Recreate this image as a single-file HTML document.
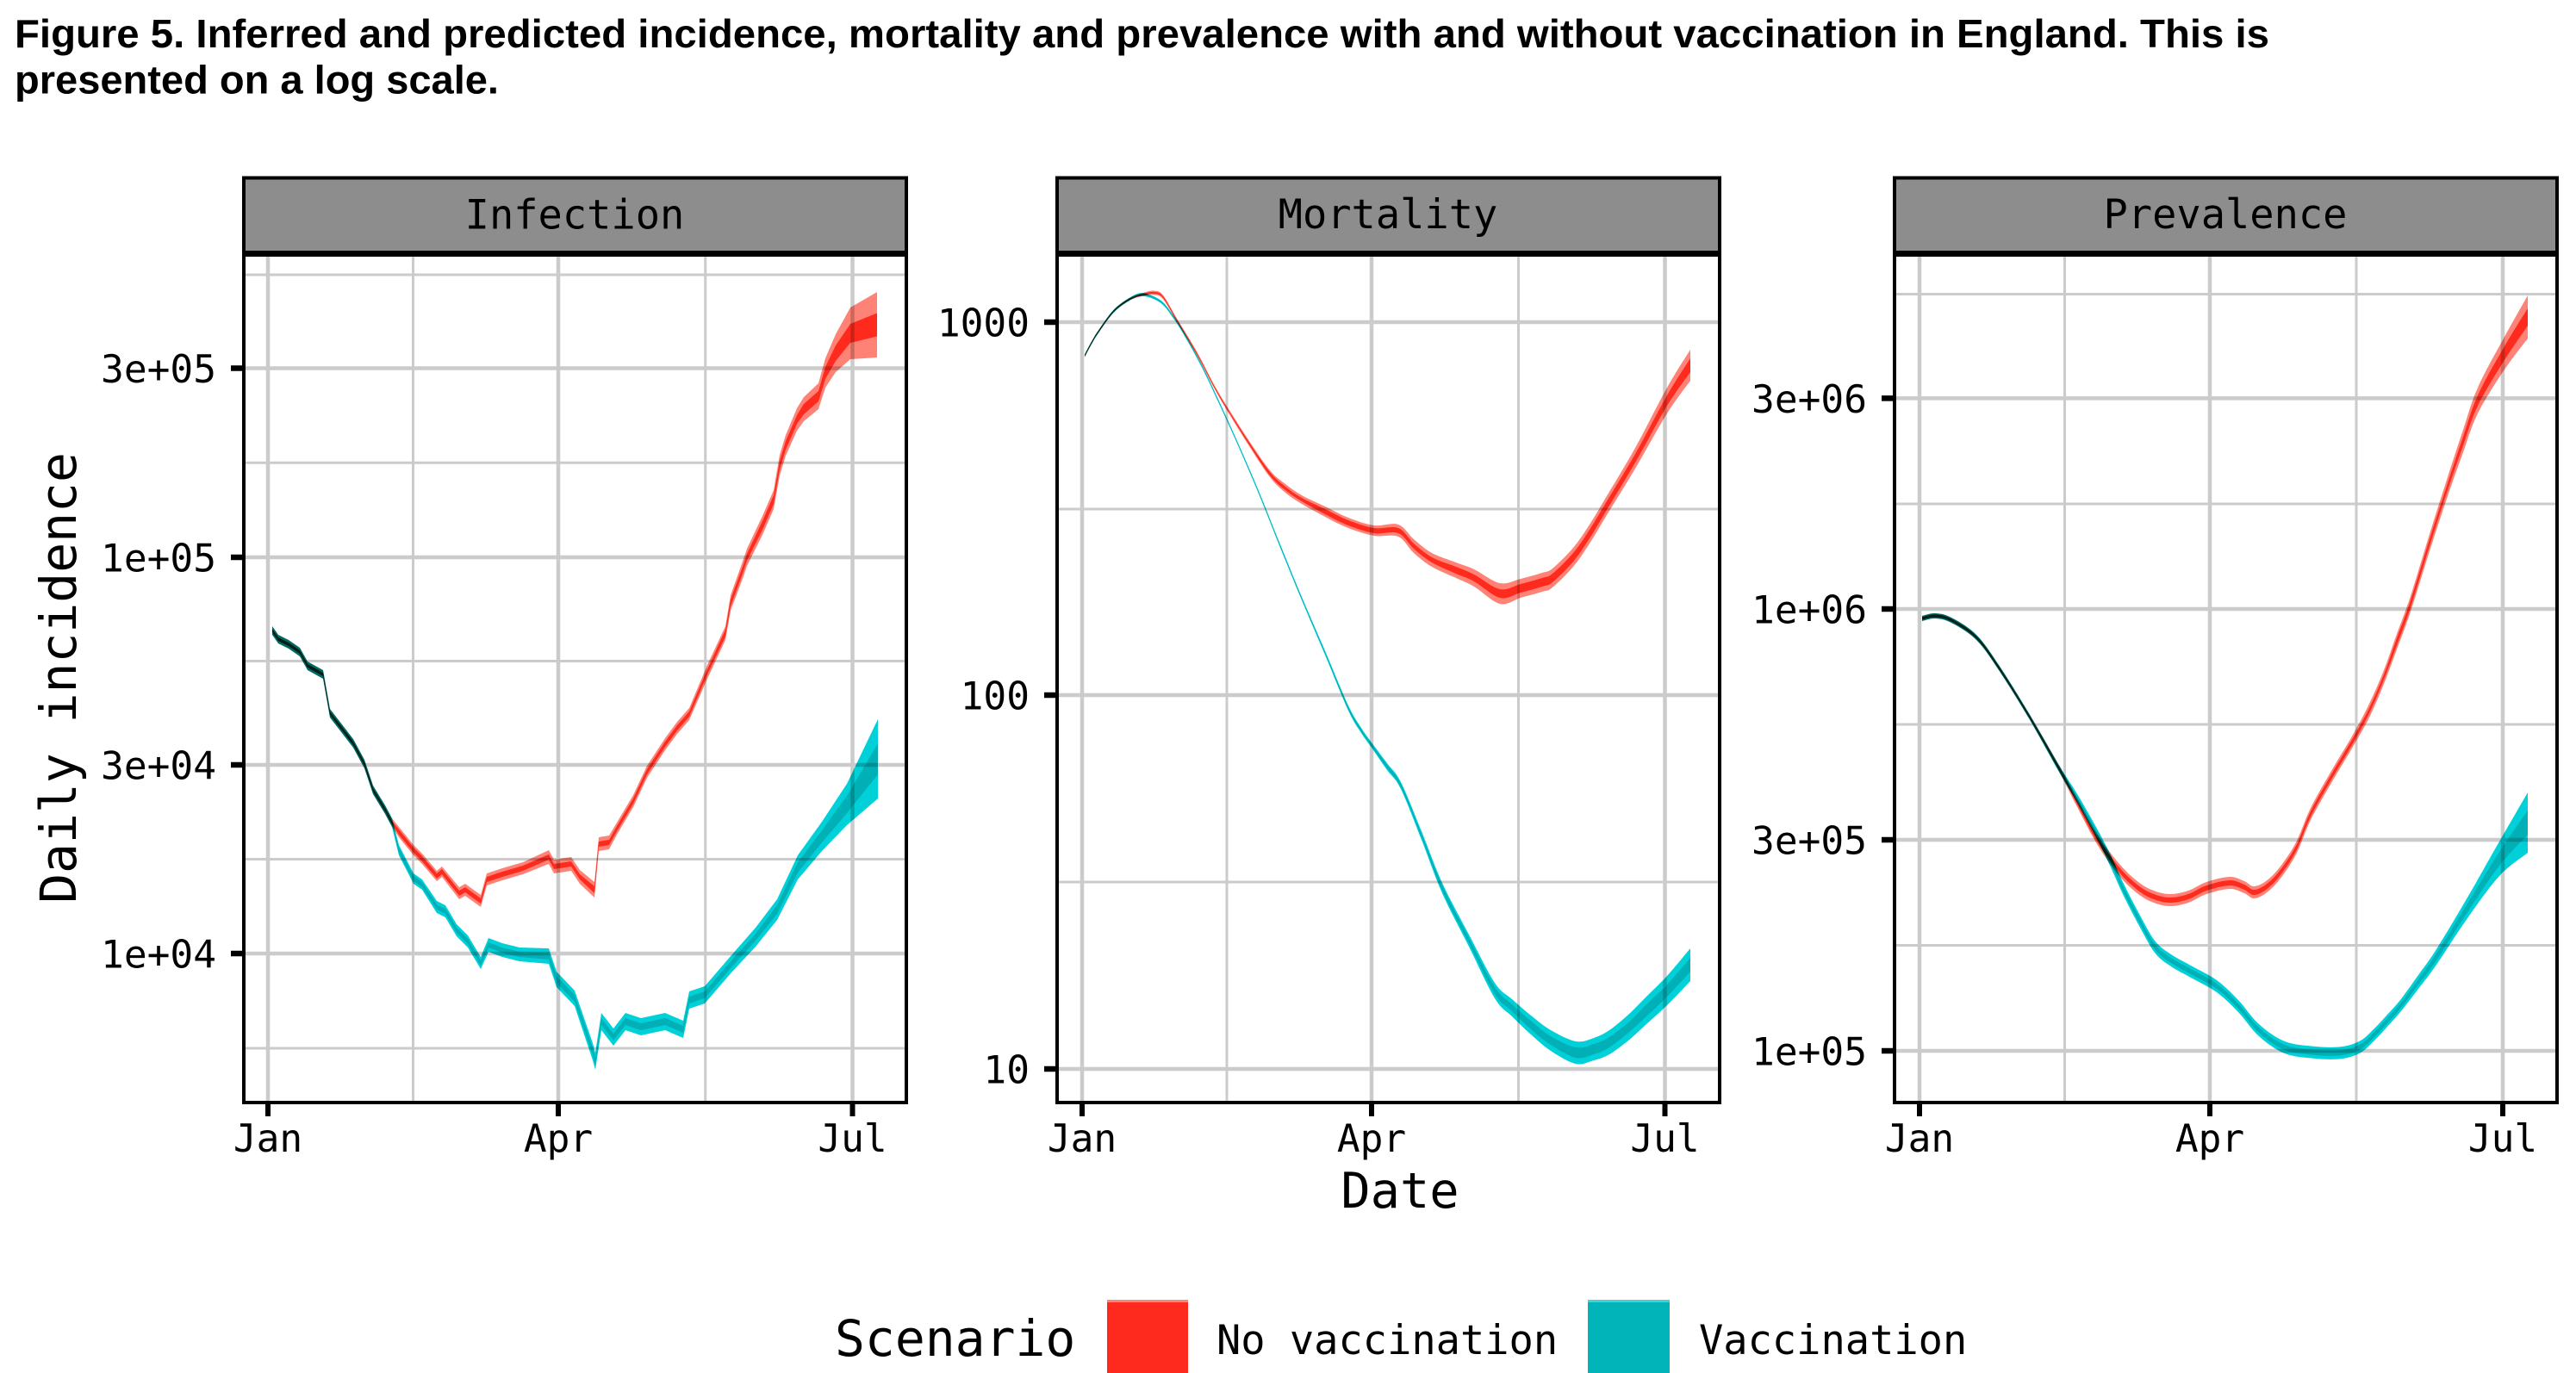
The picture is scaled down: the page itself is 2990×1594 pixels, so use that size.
<!DOCTYPE html>
<html><head><meta charset="utf-8">
<style>
html,body{margin:0;padding:0;background:#fff;}
svg{display:block;}
.mono{font-family:"DejaVu Sans Mono","Liberation Mono",monospace;fill:#000;}
.rib{mix-blend-mode:multiply;}
</style></head>
<body>
<svg id="s" width="2990" height="1594" viewBox="0 0 2990 1594" xmlns="http://www.w3.org/2000/svg">
<rect x="0" y="0" width="2990" height="1594" fill="#fff"/>
<text x="17" y="55" font-family="Liberation Sans, Arial, sans-serif" font-weight="bold" font-size="46.5" textLength="2617" lengthAdjust="spacingAndGlyphs">Figure 5. Inferred and predicted incidence, mortality and prevalence with and without vaccination in England. This is</text>
<text x="17" y="108.5" font-family="Liberation Sans, Arial, sans-serif" font-weight="bold" font-size="46.5" textLength="562" lengthAdjust="spacingAndGlyphs">presented on a log scale.</text>

<g id="grid" stroke="#cbcbcb" fill="none"></g>
<g id="ribs"></g>
<g id="frames"></g>

<!-- strip labels -->
<text class="mono" x="667" y="265.5" font-size="47" text-anchor="middle">Infection</text>
<text class="mono" x="1611" y="265" font-size="47" text-anchor="middle">Mortality</text>
<text class="mono" x="2583" y="265" font-size="47" text-anchor="middle">Prevalence</text>

<!-- y tick labels -->
<g class="mono" font-size="44.5" text-anchor="end">
<text x="251" y="444">3e+05</text>
<text x="251" y="663.5">1e+05</text>
<text x="251" y="904.5">3e+04</text>
<text x="251" y="1123.5">1e+04</text>
<text x="1195" y="390.5">1000</text>
<text x="1195" y="823.5">100</text>
<text x="1195" y="1257.5">10</text>
<text x="2167" y="479">3e+06</text>
<text x="2167" y="723.5">1e+06</text>
<text x="2167" y="991.5">3e+05</text>
<text x="2167" y="1236.5">1e+05</text>
</g>
<!-- x tick labels -->
<g class="mono" font-size="44.5" text-anchor="middle">
<text x="311" y="1337">Jan</text><text x="648" y="1337">Apr</text><text x="989.5" y="1337">Jul</text>
<text x="1256" y="1337">Jan</text><text x="1592" y="1337">Apr</text><text x="1932.5" y="1337">Jul</text>
<text x="2228" y="1337">Jan</text><text x="2565" y="1337">Apr</text><text x="2905" y="1337">Jul</text>
</g>
<!-- axis titles -->
<text class="mono" font-size="58" text-anchor="middle" transform="translate(88,787) rotate(-90)">Daily incidence</text>
<text class="mono" x="1625" y="1402" font-size="57" text-anchor="middle">Date</text>

<!-- legend -->
<text class="mono" x="969" y="1574" font-size="58">Scenario</text>
<rect x="1285" y="1509" width="94" height="94" fill="#ff2a1e"/>
<rect x="1285" y="1509" width="94" height="3" fill="#ff8276"/>
<text class="mono" x="1412" y="1572" font-size="47">No vaccination</text>
<rect x="1843" y="1509" width="95" height="94" fill="#00b4b9"/>
<rect x="1843" y="1509" width="95" height="3" fill="#40d4d8"/>
<text class="mono" x="1972" y="1572" font-size="47">Vaccination</text>
</svg>

<script>
(function(){
var NS="http://www.w3.org/2000/svg";
function el(parent,tag,attrs){var e=document.createElementNS(NS,tag);for(var k in attrs)e.setAttribute(k,attrs[k]);parent.appendChild(e);return e;}
var grid=document.getElementById('grid'),ribs=document.getElementById('ribs'),frames=document.getElementById('frames');
var panels=[
 {x0:283,x1:1052,vmaj:[311,648,989.5],vmin:[479.5,818.75],hmaj:[427.5,647,888,1107],hmin:[319,537.25,767.5,997.5,1217]},
 {x0:1227,x1:1996,vmaj:[1256,1592,1932.5],vmin:[1424,1762.5],hmaj:[374,807,1241],hmin:[591,1024]},
 {x0:2199,x1:2968,vmaj:[2228,2565,2905],vmin:[2396.5,2735],hmaj:[462.4,707,975,1220],hmin:[341.5,585,841,1097.5]}
];
var T=296,B=1280;
panels.forEach(function(p){
 p.hmin.forEach(function(y){el(grid,'line',{x1:p.x0,x2:p.x1,y1:y,y2:y,'stroke-width':3});});
 p.vmin.forEach(function(x){el(grid,'line',{x1:x,x2:x,y1:T,y2:B,'stroke-width':3});});
 p.hmaj.forEach(function(y){el(grid,'line',{x1:p.x0,x2:p.x1,y1:y,y2:y,'stroke-width':4.5});});
 p.vmaj.forEach(function(x){el(grid,'line',{x1:x,x2:x,y1:T,y2:B,'stroke-width':4.5});});
 el(frames,'rect',{x:p.x0,y:206.5,width:p.x1-p.x0,height:86.5,fill:'#8d8d8d',stroke:'#000','stroke-width':4});
 el(frames,'rect',{x:p.x0,y:296,width:p.x1-p.x0,height:B-296,fill:'none',stroke:'#000','stroke-width':4});
 p.hmaj.forEach(function(y){el(frames,'line',{x1:p.x0-15,x2:p.x0,y1:y,y2:y,stroke:'#000','stroke-width':6.5});});
 p.vmaj.forEach(function(x){el(frames,'line',{x1:x,x2:x,y1:B,y2:B+16,stroke:'#000','stroke-width':6});});
});

function cr(pts){
 var s='';
 for(var i=0;i<pts.length-1;i++){
  var p0=pts[i-1]||pts[i],p1=pts[i],p2=pts[i+1],p3=pts[i+2]||p2;
  var c1x=p1[0]+(p2[0]-p0[0])/6,c1y=p1[1]+(p2[1]-p0[1])/6;
  var c2x=p2[0]-(p3[0]-p1[0])/6,c2y=p2[1]-(p3[1]-p1[1])/6;
  s+='C'+c1x.toFixed(1)+','+c1y.toFixed(1)+' '+c2x.toFixed(1)+','+c2y.toFixed(1)+' '+p2[0]+','+p2[1].toFixed(1);
 }
 return s;
}
function lin(pts){var s='';for(var i=1;i<pts.length;i++)s+='L'+pts[i][0]+','+pts[i][1].toFixed(1);return s;}
function band(pts,k,smooth){
 var up=pts.map(function(p){return [p[0],p[1]-p[k]];});
 var lo=pts.map(function(p){return [p[0],p[1]+p[k]];}).reverse();
 var f=smooth?cr:lin;
 return 'M'+up[0][0]+','+up[0][1].toFixed(1)+f(up)+'L'+lo[0][0]+','+lo[0][1].toFixed(1)+f(lo)+'Z';
}
function draw(pts,col,smooth){
 el(ribs,'path',{d:band(pts,2,smooth),fill:col[0],'class':'rib'});
 el(ribs,'path',{d:band(pts,3,smooth),fill:col[1],'class':'rib'});
}
var RED=['#ff8276','#ff5241'],TEAL=['#00d0d7','#00d8d8'];

// Infection
var infC=[[316,732,5,2],[323,742,5,2],[335,748,5,2],[348,757,5,2],[357,773,5,2],[375,783,5,2],[383,828,5,2],[400,850,5,2],[410,863,5,2],[423,887,5,2],[433,917,5,2],[447,940,5,2],[455,955,5,2]];
var infR=infC.concat([[463,966,6,3],[480,987,6,3],[490,997,6,3],[507,1017,6,3],[513,1012,6,3],[533,1037,7,3],[540,1033,7,3],[558,1046,7,3],[565,1021,7,3],[583,1015,7,3],[607,1008,7,3],[637,995,8,3],[643,1006,8,3],[663,1003,8,3],[673,1018,8,3],[690,1033,9,4],[695,980,8,3],[707,978,8,3],[716,962,7,3],[735,930,7,3],[751,896,7,3],[772,864,7,3],[786,845,7,3],[800,829,7,3],[821,780,8,3],[842,735,8,4],[848,700,9,4],[863,659,10,4],[867,647,10,4],[885,610,11,5],[898,580,11,5],[905,540,12,5],[912,517,12,5],[925,487,13,5],[933,475,14,6],[950,460,15,6],[958,433,17,7],[970,410,22,9],[987,387,30,11],[1018,377,38,13.5]]);
var infT=infC.concat([[463,987,6,3],[480,1020,6,3],[490,1027,6,3],[507,1053,7,3],[517,1058,7,3],[530,1080,7,3],[543,1093,7,3],[558,1118,7,3],[567,1097,8,3],[583,1103,8,3],[603,1108,8,3],[637,1110,9,4],[646,1137,9,4],[667,1159,9,4],[688,1221,10,4],[691,1232,10,4],[698,1186,10,4],[712,1204,10,4],[726,1186,10,4],[744,1192,10,4],[772,1186,10,4],[793,1195,10,4],[800,1161,10,4],[818,1155,10,4],[849,1119,10,4],[877,1088,11,4],[902,1056,12,5],[926,1007,14,6],[954,971,17,7],[983,934,24,10],[1019,881,46,18]]);
draw(infR,RED,false);
draw(infT,TEAL,false);

// Mortality
var mC=[[1259,413,1.6,0.8],[1267,398,1.6,0.8],[1275,385,1.6,0.8],[1292,362,1.6,0.8],[1310,348,1.6,0.8],[1326,342,1.8,0.9]];
var mR=mC.concat([[1340,340,2.4,1],[1350,345,2.4,1],[1365,370,2,1],[1389,410,2,1],[1410,450,2,1],[1426,477,2.5,1],[1450,515,3,1.5],[1474,550,4,2],[1492,567,5,2],[1511,580,5,2],[1540,595,6,3],[1565,607,6,3],[1595,616,6,3],[1623,616,7,3],[1641,634,8,3],[1662,650,8,3],[1690,662,9,4],[1711,671,10,4],[1741,689,12,5],[1765,683,11,5],[1790,676,11,5],[1802,671,11,5],[1826,647,11,5],[1845,620,11,5],[1862,592,11,5],[1898,532,12,5],[1935,465,15,6],[1962,424,18,8]]);
var mT=mC.concat([[1347,350,1.6,0.8],[1362,368,1.6,0.8],[1377,392,1.6,0.8],[1395,425,1.6,0.8],[1414,465,1.6,0.8],[1438,518,1.6,0.8],[1462,574,1.8,0.9],[1486,634,2,1],[1511,695,2,1],[1538,758,2.5,1],[1565,822,3,1.5],[1580,848,3,1.5],[1592,865,3,1.5],[1610,890,4,2],[1626,912,4,2],[1650,970,5,2],[1674,1031,6,3],[1705,1092,7,3],[1735,1150,9,4],[1755,1170,10,4],[1777,1190,11,5],[1800,1208,12,5],[1829,1222,13,6],[1850,1218,13,6],[1868,1210,14,6],[1890,1193,15,6],[1911,1173,16,7],[1935,1150,17,7],[1962,1120,19,8]]);
draw(mR,RED,true);
draw(mT,TEAL,true);

// Prevalence
var pC=[[2231,718,3,1.5],[2246,715,3,1.5],[2265,720,3,1.5],[2294,740,3,1.5],[2320,775,3,1.5],[2355,831,3,1.5],[2391,894,4,2]];
var pR=pC.concat([[2410,930,5,2],[2434,974,6,3],[2460,1010,7,3],[2482,1031,7,3],[2500,1041,7,3],[2519,1045,7,3],[2540,1041,7,3],[2561,1031,7,3],[2588,1025,7,3],[2605,1030,7,3],[2616,1036,7,3],[2630,1030,7,3],[2646,1014,7,3],[2665,985,7,3],[2682,945,7,3],[2706,902,7,3],[2731,860,7,3],[2750,825,8,3],[2767,786,8,3],[2782,745,9,4],[2798,701,9,4],[2820,630,10,4],[2840,568,11,4],[2858,515,13,5],[2876,465,15,6],[2907,410,19,8],[2934,368,25,10]]);
var pT=pC.concat([[2410,925,5,2],[2434,968,6,3],[2450,1000,7,3],[2464,1031,7,3],[2482,1066,7,3],[2501,1099,7,3],[2520,1115,7,3],[2543,1128,7,3],[2573,1145,7,3],[2598,1168,7,3],[2622,1196,7,3],[2652,1216,7,3],[2688,1222,7,3],[2719,1222,7,3],[2740,1215,7,3],[2755,1202,7,3],[2770,1186,7,3],[2786,1168,7,3],[2807,1140,8,3],[2828,1111,9,4],[2864,1054,12,5],[2901,997,20,8],[2934,955,35,14]]);
draw(pR,RED,true);
draw(pT,TEAL,true);
})();
</script>
</body></html>
